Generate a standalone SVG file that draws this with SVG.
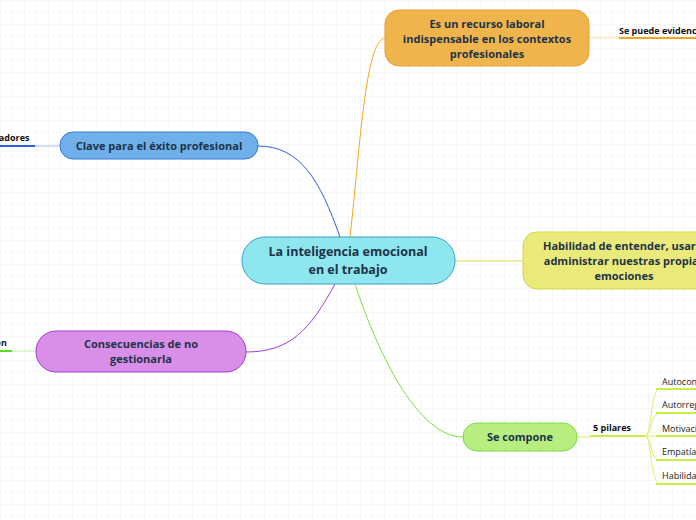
<svg xmlns="http://www.w3.org/2000/svg" width="696" height="520" viewBox="0 0 696 520">
<defs>
<pattern id="g" width="12" height="12" patternUnits="userSpaceOnUse"><path d="M12 0H0V12" fill="none" stroke="#f0f0f0" stroke-width="1"/></pattern>
<style>
.t{font-family:"Open Sans","Noto Sans",sans-serif;font-weight:bold;fill:#1d3347;text-anchor:middle}
.s{font-family:"Open Sans","Noto Sans",sans-serif;font-size:9px;fill:#222}
.sb{font-family:"Open Sans","Noto Sans",sans-serif;font-size:9px;font-weight:bold;fill:#111}
.c{fill:none;stroke-width:1}
</style>
</defs>
<rect width="696" height="520" fill="#fff"/>
<rect width="696" height="520" fill="url(#g)"/>
<g id="connectors">
<path class="c" stroke="#f5a623" d="M350 237 C360 150 365 40 385 38"/>
<path class="c" stroke="#2f5de0" d="M340 237 C320 180 300 146 258 146"/>
<path class="c" stroke="#a040d0" d="M335 284 C310 330 290 352 246 352"/>
<path class="c" stroke="#d8d850" d="M455 261 C490 261 500 261 523 261"/>
<path class="c" stroke="#7ce040" d="M355 284 C380 360 420 437 463 437"/>
<path class="c" stroke="#f5a623" stroke-opacity="0.4" d="M589 38 H619"/>
<path stroke="#f5a623" stroke-width="2" d="M619 38 H696"/>
<path class="c" stroke="#2f5de0" stroke-opacity="0.4" d="M35 146 H60"/>
<path stroke="#2f5de0" stroke-width="2" d="M0 146 H35"/>
<path class="c" stroke="#7ce040" stroke-opacity="0.5" d="M12 351 H36"/>
<path stroke="#5adc20" stroke-width="2" d="M0 351 H12"/>
<path class="c" stroke="#d0f060" d="M577 437 H590"/>
<path stroke="#c8f040" stroke-width="2" d="M590 436 H645"/>
<g class="c" stroke="#d8f070">
<path d="M645 436 C652 436 650 389 660 389"/>
<path d="M645 436 C652 436 650 413 660 413"/>
<path d="M645 436 C652 436 652 436 660 436"/>
<path d="M645 436 C652 436 650 460 660 460"/>
<path d="M645 436 C652 436 650 484 660 484"/>
</g>
<g stroke="#c8f040" stroke-width="2">
<path d="M656 389 H696"/><path d="M656 413 H696"/><path d="M656 436 H696"/><path d="M656 460 H696"/><path d="M656 484 H696"/>
</g>
</g>
<g id="central"><rect x="242" y="237" width="213" height="47" rx="23" fill="#8ee6ee" stroke="#3aa0c8"/>
<text class="t" font-size="12.5" x="348" y="256">La inteligencia emocional</text><text class="t" font-size="12.5" x="348" y="274">en el trabajo</text></g>
<g id="recurso"><rect x="385" y="10" width="204" height="56" rx="14" fill="#f0b44c" stroke="#e8a030"/>
<text class="t" font-size="11" x="487" y="28">Es un recurso laboral</text><text class="t" font-size="11" x="487" y="43">indispensable en los contextos</text><text class="t" font-size="11" x="487" y="58">profesionales</text></g>
<g id="habilidad"><rect x="523" y="232" width="200" height="57" rx="14" fill="#eaea7a" stroke="#d4d44a"/>
<text class="t" font-size="11" x="624" y="250">Habilidad de entender, usar y</text><text class="t" font-size="11" x="624" y="265">administrar nuestras propias</text><text class="t" font-size="11" x="624" y="280">emociones</text></g>
<g id="clave"><rect x="60" y="132" width="198" height="27" rx="13" fill="#6fb0ea" stroke="#3a7ad8"/>
<text class="t" font-size="11" x="159" y="150">Clave para el éxito profesional</text></g>
<g id="consecuencias"><rect x="36" y="331" width="210" height="41" rx="20" fill="#d98ee8" stroke="#a040d0"/>
<text class="t" font-size="11" x="141" y="348">Consecuencias de no</text><text class="t" font-size="11" x="141" y="363">gestionarla</text></g>
<g id="compone"><rect x="463" y="423" width="114" height="28" rx="14" fill="#b8ee80" stroke="#7cd848"/>
<text class="t" font-size="11" x="520" y="441">Se compone</text></g>
<g id="sub">
<text class="sb" x="619" y="34">Se puede evidenciar</text>
<text class="sb" x="-36" y="141">Colaboradores</text>
<text class="sb" x="-12" y="346">ción</text>
<text class="sb" x="593" y="431">5 pilares</text>
<text class="s" x="662" y="385">Autoconocimiento</text>
<text class="s" x="662" y="408">Autorregulación</text>
<text class="s" x="662" y="432">Motivación</text>
<text class="s" x="662" y="455">Empatía</text>
<text class="s" x="662" y="479">Habilidades sociales</text>
</g>
</svg>
